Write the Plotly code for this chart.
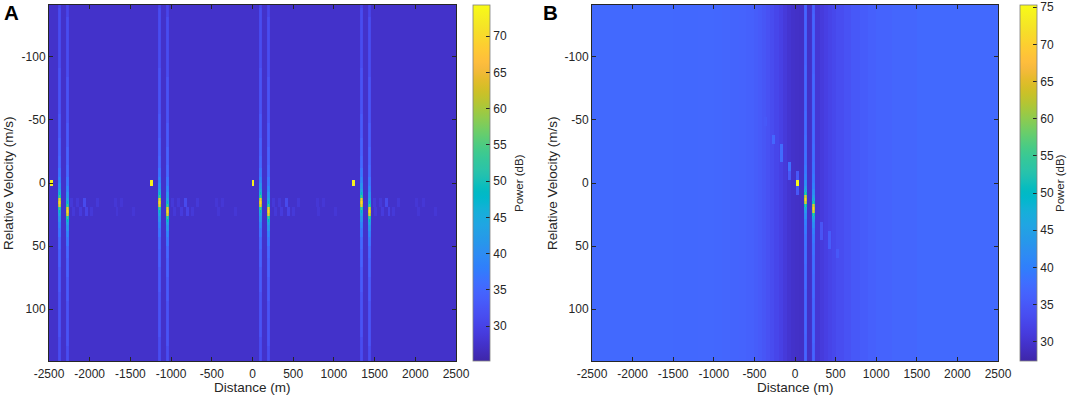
import numpy as np
import plotly.graph_objects as go

# ---- readings from the picture ----
x_ticks = [-2500, -2000, -1500, -1000, -500, 0, 500, 1000, 1500, 2000, 2500]
x_labels = ["-2500", "-2000", "-1500", "-1000", "-500", "0", "500", "1000", "1500", "2000", "2500"]
y_ticks = [-100, -50, 0, 50, 100]
y_labels = ["-100", "-50", "0", "50", "100"]
cb_ticks_a = [30, 35, 40, 45, 50, 55, 60, 65, 70]
cb_ticks_b = [30, 35, 40, 45, 50, 55, 60, 65, 70, 75]

# panel A
a_floor = 27.5
a_stripes_d = [-2377, -2279, -1136, -1038, 104, 196, 1333, 1431]
a_stripes_v = [15, 22, 15, 22, 15, 22, 15, 22]
a_spots_d = [-2475, -1235, 6, 1235]
a_spots_v = [1, 1, 1, 1]
a_spots_p = [73, 73, 73, 73]
a_echo_first_d = [-2222, -2148, -2066, -1914, -1689, -1607,
                  -2201, -2119, -2037, -1976, -1665, -1460]
a_echo_v = [15, 15, 15, 15, 15, 15, 22, 22, 22, 22, 22, 22]
a_echo_p = [28.6, 28.6, 31, 28.6, 28.3, 28.3, 28.6, 29, 30, 28.6, 28.3, 28.3]
a_period = [0, 1241, 2482, 3710]

# panel B
b_stripes_d = [127, 225]
b_stripes_v = [14, 21]
b_spots_d = [28]
b_spots_v = [0.5]
b_spots_p = [75]
b_echo_d = [-361, -259, -164, -164, -70, -70, 28, 28, 324, 324, 423, 423, 513]
b_echo_v = [-49, -35, -27.5, -19.6, -13, -6, -6, 7, 35, 42.6, 42.6, 49, 55.6]
b_echo_p = [35, 37, 37.5, 37.5, 38, 35, 35, 35, 34.5, 34.5, 35.5, 35.5, 35]
b_band_edges = [-2500, -1500, -1200, -1000, -900, -800, -700, -600, -550, -500, -450, -400,
                -350, -300, -250, -200, -150, -100, -50, 0, 50, 100, 150, 200, 250, 300,
                350, 400, 450, 500, 600, 700, 800, 900, 1000, 1200, 1500]
b_band_power = [37.3, 37.2, 37.1, 37.0, 36.9, 36.7, 36.5, 36.2, 36.0, 35.6, 35.2, 34.7,
                34.1, 33.4, 32.6, 31.8, 30.9, 30.1, 29.6, 29.4, 29.3, 29.3, 29.4, 29.8, 30.4,
                31.0, 31.7, 32.3, 32.9, 33.5, 34.3, 35.0, 35.5, 36.0, 36.5, 36.9, 37.3]

# stripe power against rows from its peak
stripe_offset_a = [0, 1, 2, 3, 4, 5, 7, 9, 12, 16, 22, 30, 45, 65, 90]
stripe_power_a = [70, 66, 54, 48, 45, 42, 39.5, 37.5, 35.5, 34.5, 33.5, 32.5, 31.5, 30.5, 29.5]
stripe_offset_b = [0, 1, 2, 3, 4, 5, 7, 9, 12, 16, 22, 30, 45, 65, 90]
stripe_power_b = [70, 66, 54, 48, 45, 43, 41, 40, 39, 38.5, 38, 37.5, 37, 36.5, 36]

parula = [
 (0.2422,0.1504,0.6603),(0.2504,0.1650,0.7076),(0.2578,0.1818,0.7511),(0.2647,0.1978,0.7952),
 (0.2706,0.2147,0.8364),(0.2751,0.2342,0.8710),(0.2783,0.2559,0.8991),(0.2803,0.2782,0.9221),
 (0.2813,0.3006,0.9414),(0.2810,0.3228,0.9579),(0.2795,0.3447,0.9717),(0.2760,0.3667,0.9829),
 (0.2699,0.3892,0.9906),(0.2602,0.4123,0.9952),(0.2440,0.4358,0.9988),(0.2206,0.4603,0.9973),
 (0.1963,0.4847,0.9892),(0.1834,0.5074,0.9798),(0.1786,0.5289,0.9682),(0.1764,0.5499,0.9520),
 (0.1687,0.5703,0.9359),(0.1540,0.5902,0.9218),(0.1460,0.6091,0.9079),(0.1380,0.6276,0.8973),
 (0.1248,0.6459,0.8883),(0.1113,0.6635,0.8763),(0.0952,0.6798,0.8598),(0.0689,0.6948,0.8394),
 (0.0297,0.7082,0.8163),(0.0036,0.7203,0.7917),(0.0067,0.7312,0.7660),(0.0433,0.7411,0.7394),
 (0.0964,0.7500,0.7120),(0.1408,0.7584,0.6842),(0.1717,0.7670,0.6554),(0.1938,0.7758,0.6251),
 (0.2161,0.7843,0.5923),(0.2470,0.7918,0.5567),(0.2906,0.7973,0.5188),(0.3406,0.8008,0.4789),
 (0.3909,0.8029,0.4354),(0.4456,0.8024,0.3909),(0.5044,0.7993,0.3480),(0.5616,0.7942,0.3045),
 (0.6174,0.7876,0.2612),(0.6720,0.7793,0.2227),(0.7242,0.7698,0.1910),(0.7738,0.7598,0.1646),
 (0.8203,0.7498,0.1535),(0.8634,0.7406,0.1596),(0.9035,0.7330,0.1774),(0.9393,0.7288,0.2100),
 (0.9728,0.7298,0.2394),(0.9956,0.7434,0.2371),(0.9970,0.7659,0.2199),(0.9952,0.7893,0.2028),
 (0.9892,0.8136,0.1885),(0.9786,0.8386,0.1766),(0.9676,0.8639,0.1643),(0.9610,0.8890,0.1537),
 (0.9597,0.9135,0.1423),(0.9628,0.9373,0.1265),(0.9691,0.9606,0.1064),(0.9769,0.9839,0.0805)]

# ---- grid and image assembly ----
D_CELL, V_CELL = 5000 / 410, 282 / 118
dist = -2500 + D_CELL * (np.arange(410) + 0.5)
vel = -141 + V_CELL * (np.arange(118) + 0.5)
colorscale = [[i / (len(parula) - 1), "rgb(%d,%d,%d)" % tuple(round(c * 255) for c in p)]
              for i, p in enumerate(parula)]


def col(d):
    return int(np.argmin(np.abs(dist - d)))


def row(v):
    return int(np.argmin(np.abs(vel - v)))


def paint_stripes(z, ds, vs, offs, pows):
    for d, v in zip(ds, vs):
        c, r0 = col(d), row(v)
        for r in range(len(vel)):
            k = np.searchsorted(offs, abs(r - r0), side="right") - 1
            p = pows[k]
            z[r, c] = max(z[r, c], p)
            for side in (c - 1, c + 1):
                z[r, side] = max(z[r, side], z[r, side] + 0.85 * (p - z[r, side]))


def paint_spots(z, ds, vs, ps):
    for d, v, p in zip(ds, vs, ps):
        c, r = col(d), row(v)
        z[r - 1:r + 1, c - 1:c + 2] = np.maximum(z[r - 1:r + 1, c - 1:c + 2], p)


za = np.full((len(vel), len(dist)), a_floor)
paint_stripes(za, a_stripes_d, a_stripes_v, stripe_offset_a, stripe_power_a)
paint_spots(za, a_spots_d, a_spots_v, a_spots_p)
for shift in a_period:
    for d, v, p in zip(a_echo_first_d, a_echo_v, a_echo_p):
        c, r = col(d + shift), row(v)
        za[r - 1:r + 2, c - 1:c + 2] = np.maximum(za[r - 1:r + 2, c - 1:c + 2], p)

idx = np.searchsorted(b_band_edges, dist, side="right") - 1
zb = np.tile(np.array(b_band_power)[idx], (len(vel), 1))
paint_stripes(zb, b_stripes_d, b_stripes_v, stripe_offset_b, stripe_power_b)
paint_spots(zb, b_spots_d, b_spots_v, b_spots_p)
for d, v, p in zip(b_echo_d, b_echo_v, b_echo_p):
    c, r = col(d), row(v)
    zb[r - 1:r + 2, c - 1:c + 2] = np.maximum(zb[r - 1:r + 2, c - 1:c + 2], p)

# ---- figure ----
W, H = 1072, 400
TEXT = "#262626"
FONT = "Liberation Sans"
fig = go.Figure()


def cbar(left, ticks):
    return dict(x=left / W, xanchor="left", xpad=0, y=1 - 361 / H, yanchor="bottom", ypad=0,
                len=356 / H, lenmode="fraction", thickness=17, thicknessmode="pixels",
                tickvals=ticks, ticks="inside", ticklen=4, tickwidth=0.8, tickcolor=TEXT,
                outlinecolor="#7f7f7f", outlinewidth=0.8,
                tickfont=dict(size=12, color=TEXT, family=FONT))


fig.add_trace(go.Heatmap(x=dist, y=vel, z=za, zmin=25.2, zmax=74.3, colorscale=colorscale,
                         colorbar=cbar(473, cb_ticks_a), xaxis="x", yaxis="y"))
fig.add_trace(go.Heatmap(x=dist, y=vel, z=zb, zmin=27.4, zmax=75.3, colorscale=colorscale,
                         colorbar=cbar(1020, cb_ticks_b), xaxis="x2", yaxis="y2"))

ax_x = dict(range=[-2500, 2500], tickvals=x_ticks, ticktext=x_labels, ticks="inside", ticklen=4, tickwidth=0.8,
            tickcolor=TEXT, showline=True, linecolor=TEXT, linewidth=1, mirror="allticks", automargin=False,
            showgrid=False, zeroline=False, tickfont=dict(size=12, color=TEXT, family=FONT),
            ticklabelstandoff=2, title=None)
ax_y = dict(range=[141, -141], tickvals=y_ticks, ticktext=y_labels, ticks="inside", ticklen=4, tickwidth=0.8,
            tickcolor=TEXT, showline=True, linecolor=TEXT, linewidth=1, mirror="allticks", automargin=False,
            showgrid=False, zeroline=False, tickfont=dict(size=12, color=TEXT, family=FONT), title=None)


def note(text, x, y, size, angle=0, color=TEXT):
    return dict(text=text, x=x / W, y=1 - y / H, xref="paper", yref="paper", textangle=angle,
                xanchor="center", yanchor="middle", showarrow=False,
                font=dict(size=size, color=color, family=FONT))


fig.update_layout(
    width=W, height=H, autosize=False, margin=dict(l=0, r=0, t=0, b=0, autoexpand=False),
    paper_bgcolor="white", plot_bgcolor="white", showlegend=False,
    xaxis=dict(ax_x, domain=[49 / W, 456 / W], anchor="y"),
    yaxis=dict(ax_y, domain=[1 - 361 / H, 1 - 5 / H], anchor="x"),
    xaxis2=dict(ax_x, domain=[592 / W, 998 / W], anchor="y2"),
    yaxis2=dict(ax_y, domain=[1 - 361 / H, 1 - 5 / H], anchor="x2"),
    annotations=[
        note("<b>A</b>", 11, 12.5, 20.5, color="black"),
        note("<b>B</b>", 550, 12.5, 20.5, color="black"),
        note("Power (dB)", 519, 183, 11.5, -90),
        note("Power (dB)", 1060, 183, 11.5, -90),
        note("Distance (m)", 252, 387, 13.5),
        note("Distance (m)", 795, 387, 13.5),
        note("Relative Velocity (m/s)", 8, 183, 13.5, -90),
        note("Relative Velocity (m/s)", 552, 183, 13.5, -90),
    ],
)
fig.write_html("out.html", config={"displayModeBar": False},
               post_script="document.body.style.margin='0';")
